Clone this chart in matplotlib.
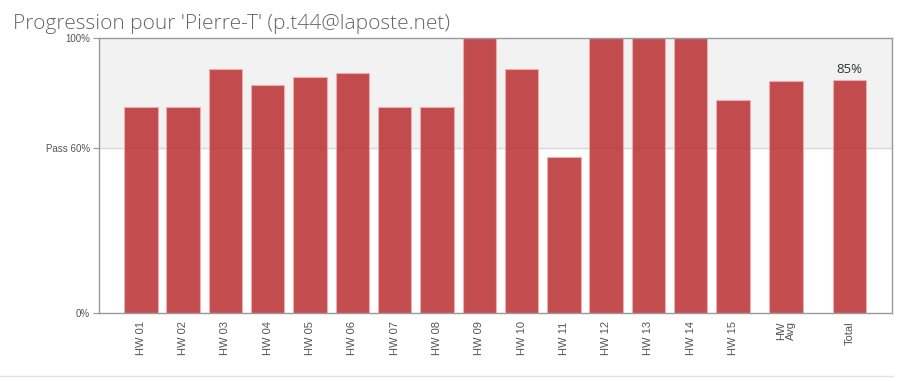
import matplotlib.pyplot as plt
from matplotlib.lines import Line2D

plt.rcParams['font.family'] = ['Open Sans', 'DejaVu Sans']

labels = ['HW 01', 'HW 02', 'HW 03', 'HW 04', 'HW 05', 'HW 06', 'HW 07', 'HW 08',
          'HW 09', 'HW 10', 'HW 11', 'HW 12', 'HW 13', 'HW 14', 'HW 15', 'HW\nAvg', 'Total']
scores = [75, 75, 89, 83, 86, 87.5, 75, 75, 100, 89, 57, 100, 100, 100, 77.5, 84.5, 85]
pos = list(range(15)) + [15.25, 16.75]
pass_mark = 60
total_label = '85%'

fig = plt.figure(figsize=(9.14, 3.81), dpi=100)
ax = fig.add_axes([0.1078, 0.1785, 0.8678, 0.7205])

# pass zone
ax.axhspan(pass_mark, 100, color='#f2f2f2', zorder=0)
ax.axhline(pass_mark, color='#d8d8d8', lw=1, zorder=1)

ax.bar(pos, scores, width=0.79, color='#ba2e30', alpha=0.85,
       edgecolor='#f0b0b0', linewidth=0.8, zorder=2)
ax.text(pos[-1], scores[-1] + 2.5, total_label, ha='center', va='baseline',
        fontsize=9.5, color='#333333')

ax.set_xlim(-1, 17.75)
ax.set_ylim(0, 100)
ax.set_yticks([0, 60, 100])
ax.set_yticklabels(['0%', 'Pass 60%', '100%'], family='Liberation Sans')
ax.set_xticks(pos)
ax.set_xticklabels(labels, rotation=90, va='top', linespacing=0.9,
                   family='Liberation Sans')
ax.tick_params(axis='y', length=4, width=0.8, colors='#999999', labelcolor='#555555',
               labelsize=7, pad=2)
ax.tick_params(axis='x', length=0, labelcolor='#555555', labelsize=8, pad=6)
for s in ax.spines.values():
    s.set_color('#999999')
    s.set_linewidth(1)

fig.text(0.014, 0.925, "Progression pour 'Pierre-T' (p.t44@laposte.net)",
         fontsize=15, color='#666666', fontweight='light', ha='left', va='baseline')

fig.add_artist(Line2D([0.0, 0.977], [0.013, 0.013], color='#e2e2e2', lw=1))

fig.savefig('out.png', dpi=100)
